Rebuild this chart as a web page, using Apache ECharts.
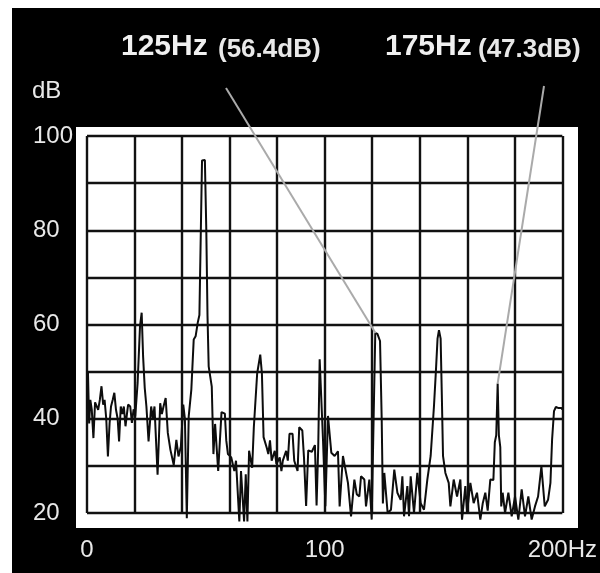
<!DOCTYPE html>
<html><head><meta charset="utf-8">
<script src="https://cdn.jsdelivr.net/npm/echarts/dist/echarts.min.js"></script>
<style>html,body{margin:0;padding:0;background:#fff}#c{width:600px;height:573px}</style>
</head><body><div id="c"></div>
<script>
// Frequency (Hz) of each trace point
const freqs = [
  0, 0.4, 0.9, 1.4, 2.0, 2.7, 3.4, 4.1, 4.7, 5.4, 6.1, 6.8, 7.4, 8.1, 8.8, 9.5, 10.1, 10.8, 11.5, 12.2,
  12.9, 13.5, 14.2, 14.9, 15.5, 16.2, 16.8, 17.3, 18.2, 18.9, 19.6, 20.3, 21.3, 22.3, 23.0, 23.6, 24.3, 25.0, 25.9, 27.0,
  27.7, 28.4, 29.7, 30.8, 31.5, 32.2, 33.1, 34.0, 35.1, 36.5, 37.6, 38.5, 39.5, 40.5, 41.2, 42.0, 42.8, 43.9, 44.9, 45.7,
  46.6, 47.3, 47.9, 48.4, 49.6, 50.2, 50.7, 51.2, 52.5, 53.2, 53.9, 55.2, 56.6, 58.0, 58.6, 59.3, 60.7, 62.0, 62.7, 64.1,
  64.8, 66.1, 66.8, 67.5, 68.2, 69.5, 70.2, 71.6, 72.9, 73.6, 74.3, 75.6, 76.3, 77.0, 77.7, 79.0, 79.7, 81.1, 81.8, 82.4,
  83.8, 84.5, 85.2, 86.5, 87.2, 88.6, 89.3, 90.6, 91.3, 92.2, 93.1, 94.6, 95.9, 96.6, 97.3, 97.9, 98.6, 99.3, 100.3, 101.4,
  102.8, 104.2, 105.6, 106.3, 107.7, 108.4, 109.8, 111.1, 112.5, 113.5, 114.6, 115.3, 116.7, 117.4, 118.8, 119.8, 120.6, 121.3, 122.2, 123.3,
  124.0, 124.5, 125.1, 126.5, 127.9, 129.3, 130.6, 132.0, 132.7, 133.4, 134.8, 135.5, 136.2, 137.6, 139.0, 140.4, 141.8, 143.2, 144.6, 146.0,
  146.8, 147.5, 148.1, 148.8, 149.3, 149.8, 150.8, 152.2, 152.9, 154.3, 155.7, 157.1, 157.8, 159.2, 159.9, 161.3, 162.7, 164.1, 165.5, 166.5,
  167.6, 168.6, 169.7, 171.0, 171.6, 172.2, 172.8, 173.3, 173.9, 174.3, 174.9, 175.9, 177.3, 178.7, 180.1, 181.5, 182.9, 184.3, 185.7, 187.1,
  188.5, 189.8, 191.2, 192.6, 194.0, 195.0, 195.7, 196.5, 197.3, 198.2, 199.6, 200
];
// Level (dB) of each trace point
const levels = [
  42, 50, 39, 44, 42, 35.9, 43.5, 43.3, 41.9, 44, 46.9, 43, 44, 40, 32, 39, 42.6, 44, 45.5, 41.9,
  40, 35.2, 42.6, 41, 42.6, 38.4, 41, 43, 42.6, 39.1, 42, 40.5, 47.6, 59.6, 62.5, 53.3, 46.5, 42.6, 35.2, 42.6,
  40, 42.6, 28.1, 43.3, 41, 42.6, 44.4, 37, 33.4, 30.2, 35.5, 32, 34.1, 43, 40, 18.9, 40.5, 46.2, 56.8, 57.5,
  60.4, 62, 80, 94.8, 94.9, 80, 62, 51.1, 46.8, 32.5, 38.9, 28.9, 41.4, 41.1, 35.4, 32.5, 31.8, 28.9, 31.1, 18.2,
  28.9, 18.2, 28.2, 18.2, 33.2, 29.6, 38.2, 49.6, 53.6, 49.6, 36.1, 33.9, 32.5, 35.4, 31.1, 33.2, 30.4, 31.8, 28.9, 31.1,
  33.2, 31.1, 36.8, 36.8, 31.1, 28.9, 38.2, 37.5, 31.8, 21.5, 33.3, 33, 34.4, 21.6, 34, 52.6, 53, 35.6, 21.4, 40.6,
  32.8, 32.1, 33.1, 21.4, 32.1, 32.4, 26.4, 19.3, 27.1, 24, 23.5, 27.8, 27.1, 21.4, 27.1, 18.6, 40, 58.2, 58, 56.5,
  40, 22, 28.5, 20, 20.7, 29.2, 24.3, 22.8, 27.8, 19.3, 25.7, 19.3, 27.8, 20, 28.5, 22.1, 20.7, 27.1, 32.1, 42.7,
  50, 57, 58.8, 57, 45, 32.1, 28.5, 26.4, 21.4, 27.1, 23.5, 27.1, 18.6, 25.7, 20, 26.4, 22.1, 24.3, 18.6, 22,
  24.3, 20.5, 27.1, 27, 35, 36.5, 47.5, 36.5, 34, 21.4, 24.3, 20, 24.3, 19.3, 23.5, 18.6, 25, 19.3, 23.5, 18.6,
  21.4, 23.5, 29.9, 21.4, 22.8, 26.4, 35.6, 41.6, 42.5, 42.3, 42.3, 42
];
const xTicks = [0, 100, 200];
const xTickLabels = ['0', '100', '200Hz'];
const yTicks = [20, 40, 60, 80, 100];
const yUnit = 'dB';
// Annotated peaks
const peakFreqs = [121.4, 172.8];
const peakLevels = [58.2, 47.5];
const peakNames = ['125Hz', '175Hz'];
const peakValues = ['(56.4dB)', '(47.3dB)'];

const font = "'Liberation Sans', Arial, Helvetica, sans-serif";
const chart = echarts.init(document.getElementById('c'), null, { renderer: 'canvas' });

const option = {
  backgroundColor: '#fff',
  animation: false,
  grid: { left: 87, top: 136, width: 480, height: 377, containLabel: false },
  xAxis: {
    type: 'value', min: 0, max: 200, interval: 20,
    axisLine: { show: false }, axisTick: { show: false },
    splitLine: { show: true, lineStyle: { color: '#111', width: 2.4 } },
    axisLabel: {
      margin: 25, color: '#e8e8e8', fontSize: 24, fontFamily: font,
      hideOverlap: false, showMinLabel: true, showMaxLabel: true,
      formatter: function (v) { const i = xTicks.indexOf(v); return i < 0 ? '' : xTickLabels[i]; }
    }
  },
  yAxis: {
    type: 'value', min: 20, max: 100, interval: 10,
    axisLine: { show: false }, axisTick: { show: false },
    splitLine: { show: true, lineStyle: { color: '#111', width: 2.4 } },
    axisLabel: {
      margin: 54, align: 'left', color: '#e8e8e8', fontSize: 24, fontFamily: font,
      hideOverlap: false, showMinLabel: true, showMaxLabel: true,
      formatter: function (v) { return yTicks.indexOf(v) < 0 ? '' : String(v); }
    }
  },
  series: [{
    type: 'line',
    data: freqs.map(function (f, i) { return [f, levels[i]]; }),
    symbol: 'none', showSymbol: false, smooth: false, clip: false,
    lineStyle: { color: '#0d0d0d', width: 2 },
    z: 5
  }]
};
chart.setOption(option);

// layout of annotation labels (pixels)
const labelLeft = [121, 385];
const valueLeft = [218, 478];
const lineStart = [[226, 88], [544, 86]];

const graphics = [
  { type: 'rect', z: -20, silent: true, shape: { x: 12, y: 8, width: 588, height: 565 }, style: { fill: '#000' } },
  { type: 'rect', z: -10, silent: true, shape: { x: 76, y: 127, width: 502, height: 401 }, style: { fill: '#fff' } },
  { type: 'text', z: 10, style: { text: yUnit, x: 32, y: 91, fill: '#e8e8e8', font: '24px ' + font,
      textAlign: 'left', align: 'left', textVerticalAlign: 'middle', verticalAlign: 'middle' } }
];
for (let i = 0; i < peakNames.length; i++) {
  const end = chart.convertToPixel({ gridIndex: 0 }, [peakFreqs[i], peakLevels[i]]);
  graphics.push({ type: 'line', z: 8, silent: true,
    shape: { x1: lineStart[i][0], y1: lineStart[i][1], x2: end[0], y2: end[1] },
    style: { stroke: '#aaaaaa', lineWidth: 2 } });
  graphics.push({ type: 'text', z: 10, style: { text: peakNames[i], x: labelLeft[i], y: 47, fill: '#f0f0f0',
    font: 'bold 30px ' + font, textAlign: 'left', align: 'left', textVerticalAlign: 'middle', verticalAlign: 'middle' } });
  graphics.push({ type: 'text', z: 10, style: { text: peakValues[i], x: valueLeft[i], y: 50, fill: '#e8e8e8',
    font: 'bold 26px ' + font, textAlign: 'left', align: 'left', textVerticalAlign: 'middle', verticalAlign: 'middle' } });
}
chart.setOption({ graphic: graphics });
</script>
</body></html>
